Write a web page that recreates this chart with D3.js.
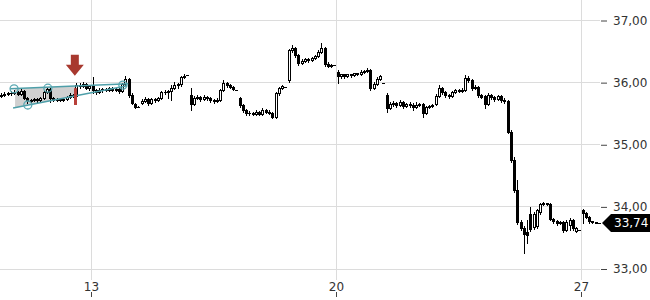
<!DOCTYPE html>
<html>
<head>
<meta charset="utf-8">
<script src="https://cdn.jsdelivr.net/npm/d3@7"></script>
<style>
body { margin: 0; background: #fff; }
svg { display: block; font-family: "DejaVu Sans", sans-serif; }
</style>
</head>
<body>
<script>
// trading sessions (weekends left out), 15 bars per session
var sessionLabels = ["09", "10", "13", "14", "15", "16", "17", "20", "21", "22", "23", "24", "27"];
var tickSessions = [2, 7, 12];
var tickLabels = ["13", "20", "27"];
var priceTicks = [33, 34, 35, 36, 37];
var barsPerSession = 15;
var firstBar = 2;
var lastPrice = 33.74;

var opens = [
  35.78,35.80,35.82,35.83,35.83,35.85,35.82,35.87,35.75,35.70,35.72,35.74,35.72,
  35.75,35.85,35.90,35.75,35.72,35.74,35.72,35.74,35.77,35.80,35.78,35.96,35.95,35.98,35.91,
  35.95,35.88,35.85,35.88,35.90,35.88,35.91,35.88,35.90,35.87,35.98,36.06,35.80,35.66,35.61,
  35.67,35.70,35.74,35.67,35.74,35.72,35.75,35.85,35.85,35.87,35.91,35.96,35.98,36.09,36.12,
  35.80,35.66,35.75,35.77,35.74,35.77,35.75,35.72,35.70,35.72,35.88,35.99,35.96,35.93,35.88,
  35.75,35.64,35.56,35.51,35.51,35.49,35.53,35.49,35.56,35.53,35.51,35.45,35.83,35.91,35.93,
  36.04,36.53,36.56,36.44,36.32,36.35,36.38,36.36,36.40,36.43,36.49,36.56,36.30,36.27,36.28,
  36.17,36.11,36.14,36.11,36.14,36.12,36.15,36.14,36.17,36.19,36.20,35.91,35.98,36.06,35.99,
  35.80,35.59,35.66,35.67,35.64,35.69,35.62,35.66,35.64,35.61,35.64,35.66,35.51,35.61,35.62,
  35.66,35.78,35.91,35.85,35.80,35.78,35.85,35.88,35.87,35.88,36.07,36.04,35.91,35.93,35.80,
  35.78,35.66,35.80,35.77,35.74,35.78,35.72,35.70,35.21,34.75,34.27,33.76,33.66,33.60,33.89,
  33.68,33.69,33.92,34.05,34.06,34.05,33.80,33.77,33.74,33.76,33.63,33.71,33.79,33.61,33.63,
  33.95,33.90,33.84,33.77,33.76,33.74
];
var highs = [
  35.83,35.85,35.85,35.87,35.88,35.87,35.90,35.88,35.77,35.74,35.75,35.75,35.77,
  35.87,35.91,35.91,35.77,35.75,35.75,35.75,35.78,35.83,35.82,35.99,35.99,36.01,35.99,35.96,
  36.09,35.90,35.91,35.91,35.91,35.93,35.93,35.91,35.91,35.99,36.11,36.07,35.83,35.67,35.62,
  35.74,35.77,35.75,35.75,35.75,35.77,35.87,35.88,35.88,35.96,36.01,35.99,36.11,36.14,36.12,
  35.91,35.78,35.80,35.78,35.80,35.78,35.77,35.74,35.75,35.90,36.04,36.01,35.98,35.95,35.88,
  35.77,35.66,35.58,35.54,35.53,35.56,35.54,35.59,35.58,35.56,35.53,35.85,35.93,35.96,35.93,
  36.54,36.61,36.57,36.46,36.38,36.40,36.40,36.41,36.44,36.53,36.64,36.57,36.33,36.30,36.28,
  36.20,36.14,36.14,36.14,36.14,36.15,36.15,36.20,36.20,36.24,36.22,36.01,36.09,36.12,35.99,
  35.83,35.69,35.70,35.69,35.72,35.70,35.67,35.69,35.67,35.69,35.67,35.67,35.62,35.64,35.66,
  35.82,35.96,35.93,35.87,35.82,35.87,35.90,35.90,35.91,36.12,36.11,36.06,35.96,35.95,35.82,
  35.80,35.83,35.82,35.78,35.80,35.80,35.75,35.72,35.24,34.80,34.43,33.79,33.69,33.79,34.00,
  33.92,33.97,34.06,34.08,34.06,34.06,33.82,33.79,33.77,33.77,33.79,33.82,33.80,33.68,33.63,
  33.97,33.92,33.85,33.77,33.76,33.74
];
var lows = [
  35.77,35.78,35.80,35.80,35.82,35.80,35.80,35.74,35.67,35.69,35.70,35.69,35.70,
  35.74,35.83,35.69,35.70,35.70,35.70,35.70,35.72,35.75,35.77,35.77,35.91,35.93,35.90,35.88,
  35.83,35.82,35.83,35.85,35.87,35.87,35.87,35.87,35.83,35.85,35.96,35.77,35.66,35.59,35.61,
  35.66,35.69,35.64,35.66,35.69,35.70,35.74,35.82,35.75,35.72,35.90,35.91,35.95,36.07,36.12,
  35.56,35.64,35.74,35.70,35.72,35.72,35.69,35.67,35.69,35.70,35.87,35.93,35.91,35.88,35.88,
  35.61,35.53,35.48,35.48,35.48,35.48,35.48,35.48,35.51,35.49,35.43,35.43,35.80,35.90,35.93,
  36.01,36.49,36.41,36.28,36.30,36.33,36.33,36.35,36.38,36.41,36.48,36.27,36.25,36.25,36.28,
  35.99,36.07,36.07,36.09,36.09,36.11,36.12,36.12,36.15,36.17,35.88,35.90,35.96,36.04,35.99,
  35.53,35.58,35.62,35.61,35.62,35.59,35.61,35.61,35.56,35.59,35.62,35.45,35.49,35.59,35.61,
  35.64,35.77,35.82,35.77,35.75,35.77,35.83,35.85,35.85,35.87,36.01,35.88,35.90,35.77,35.75,
  35.59,35.64,35.74,35.70,35.72,35.69,35.67,35.19,34.72,34.24,33.72,33.63,33.26,33.42,33.61,
  33.64,33.66,33.89,34.03,34.03,33.79,33.74,33.71,33.72,33.60,33.61,33.63,33.63,33.60,33.63,
  33.74,33.82,33.74,33.74,33.74,33.74
];
var closes = [
  35.80,35.82,35.83,35.83,35.85,35.82,35.87,35.75,35.70,35.72,35.74,35.72,35.75,
  35.85,35.90,35.75,35.72,35.74,35.72,35.74,35.77,35.80,35.78,35.96,35.95,35.98,35.91,35.95,
  35.88,35.85,35.88,35.90,35.88,35.91,35.88,35.90,35.87,35.98,36.06,35.80,35.67,35.61,35.61,
  35.70,35.74,35.67,35.74,35.72,35.75,35.85,35.85,35.87,35.91,35.96,35.98,36.09,36.11,36.12,
  35.66,35.75,35.77,35.74,35.77,35.75,35.72,35.70,35.72,35.88,35.99,35.96,35.93,35.90,35.88,
  35.64,35.56,35.51,35.51,35.49,35.53,35.49,35.56,35.53,35.51,35.45,35.83,35.91,35.95,35.93,
  36.53,36.56,36.44,36.32,36.35,36.38,36.36,36.40,36.43,36.49,36.56,36.30,36.27,36.28,36.28,
  36.11,36.14,36.11,36.14,36.12,36.15,36.14,36.17,36.19,36.20,35.91,35.98,36.06,36.11,35.99,
  35.59,35.66,35.67,35.64,35.69,35.62,35.66,35.64,35.61,35.64,35.66,35.51,35.61,35.62,35.64,
  35.78,35.91,35.85,35.80,35.78,35.85,35.88,35.87,35.88,36.07,36.04,35.91,35.93,35.80,35.77,
  35.66,35.80,35.77,35.74,35.78,35.72,35.70,35.21,34.75,34.27,33.76,33.66,33.56,33.55,33.64,
  33.89,33.95,34.05,34.06,34.05,33.80,33.77,33.74,33.76,33.63,33.76,33.79,33.66,33.66,33.63,
  33.90,33.84,33.77,33.76,33.74,33.74
];

// drawn annotations, in [session, price]
var wedgeUpper = [[0.35, 35.90], [2.76, 35.98]];
var wedgeLower = [[0.41, 35.59], [2.74, 35.95]];
var wedgeFill = [0.45, 1.72];
var wedgeTouches = [[0.43, 35.90], [0.71, 35.64], [1.12, 35.91], [2.65, 35.96]];
var signalBar = [1.67, 35.91, 35.64];
var arrowTip = [1.67, 36.11];

var width = 650, height = 300;

var svg = d3.select("body").append("svg")
  .attr("width", width)
  .attr("height", height);

var x = d3.scaleLinear().domain([0, 12]).range([-7, 581]);
var y = d3.scaleLinear().domain([33, 37]).range([269, 20.5]);

var comma = d3.formatLocale({ decimal: ",", thousands: ".", grouping: [3], currency: ["", "€"] });
var fmt = comma.format(".2f");

// grid
svg.append("g").selectAll("line")
  .data(priceTicks)
  .enter().append("line")
  .attr("x1", 0).attr("x2", 600)
  .attr("y1", function (d) { return Math.floor(y(d)) + 0.5; })
  .attr("y2", function (d) { return Math.floor(y(d)) + 0.5; })
  .attr("stroke", "#dcdcdc");

svg.append("g").selectAll("line")
  .data(tickSessions)
  .enter().append("line")
  .attr("x1", function (d) { return Math.round(x(d)) + 0.5; })
  .attr("x2", function (d) { return Math.round(x(d)) + 0.5; })
  .attr("y1", 0).attr("y2", 280)
  .attr("stroke", "#dcdcdc");

// axes
var yAxis = svg.append("g")
  .attr("transform", "translate(601,0)")
  .call(d3.axisRight(y).tickValues(priceTicks).tickSize(6).tickPadding(6).tickFormat(fmt));
yAxis.select(".domain").remove();
yAxis.selectAll("line").attr("stroke", "#444");
yAxis.selectAll("text").attr("fill", "#333").style("font-size", "12px").style("font-family", "DejaVu Sans");

var xAxis = svg.append("g")
  .attr("transform", "translate(0,292)")
  .call(d3.axisBottom(x).tickValues(tickSessions).tickSize(5)
    .tickFormat(function (d, i) { return tickLabels[i]; }));
xAxis.select(".domain").remove();
xAxis.selectAll("line").attr("stroke", "#444");
xAxis.selectAll("text").attr("y", -5).attr("dy", "0.35em").attr("fill", "#333")
  .style("font-size", "12px").style("font-family", "DejaVu Sans");

// wedge fill
function along(line, t) {
  var a = line[0], b = line[1];
  return a[1] + (b[1] - a[1]) * (t - a[0]) / (b[0] - a[0]);
}
var fillPts = [
  [wedgeFill[0], along(wedgeUpper, wedgeFill[0])],
  [wedgeFill[1], along(wedgeUpper, wedgeFill[1])],
  [wedgeFill[1], along(wedgeLower, wedgeFill[1])],
  [wedgeFill[0], along(wedgeLower, wedgeFill[0])]
];
svg.append("polygon")
  .attr("points", fillPts.map(function (p) { return x(p[0]) + "," + y(p[1]); }).join(" "))
  .attr("fill", "#c8c8c8")
  .attr("opacity", 0.85);

// candles
var candles = closes.map(function (c, i) {
  return { o: opens[i], h: highs[i], l: lows[i], c: c, t: (firstBar + i + 0.5) / barsPerSession };
});

var cg = svg.append("g");
candles.forEach(function (d) {
  var cx = Math.round(x(d.t));
  var top = Math.round(y(Math.max(d.o, d.c)));
  var bot = Math.round(y(Math.min(d.o, d.c)));
  cg.append("line")
    .attr("x1", cx + 0.5).attr("x2", cx + 0.5)
    .attr("y1", Math.round(y(d.h))).attr("y2", Math.round(y(d.l)) + 1)
    .attr("stroke", "#000");
  if (d.c >= d.o && bot - top >= 2) {
    cg.append("rect")
      .attr("x", cx - 0.5).attr("width", 2)
      .attr("y", top + 0.5).attr("height", bot - top)
      .attr("fill", "#fff").attr("stroke", "#000");
  } else {
    cg.append("rect")
      .attr("x", cx - 1).attr("width", 3)
      .attr("y", top).attr("height", Math.max(1, bot - top + 1))
      .attr("fill", "#000");
  }
});

// wedge lines + touch points
[wedgeUpper, wedgeLower].forEach(function (ln) {
  svg.append("line")
    .attr("x1", x(ln[0][0])).attr("y1", y(ln[0][1]))
    .attr("x2", x(ln[1][0])).attr("y2", y(ln[1][1]))
    .attr("stroke", "#4e9fa9").attr("stroke-width", 1.5);
});
svg.append("g").selectAll("circle")
  .data(wedgeTouches)
  .enter().append("circle")
  .attr("cx", function (d) { return x(d[0]); })
  .attr("cy", function (d) { return y(d[1]); })
  .attr("r", 4)
  .attr("fill", "none")
  .attr("stroke", "#5aa8b2")
  .attr("stroke-width", 1.3);

// signal marker and arrow
svg.append("rect")
  .attr("x", Math.round(x(signalBar[0])) - 1).attr("width", 3)
  .attr("y", y(signalBar[1])).attr("height", y(signalBar[2]) - y(signalBar[1]))
  .attr("fill", "#b8403a");

var ax = x(arrowTip[0]), ay = y(arrowTip[1]);
svg.append("path")
  .attr("d", "M" + (ax - 4) + "," + (ay - 21) + "H" + (ax + 4) + "V" + (ay - 11) +
    "H" + (ax + 9) + "L" + ax + "," + ay + "L" + (ax - 9) + "," + (ay - 11) +
    "H" + (ax - 4) + "Z")
  .attr("fill", "#a8392f");

// last price tag
var py = y(lastPrice);
svg.append("path")
  .attr("d", "M602," + py + "L611," + (py - 9) + "H650V" + (py + 9) + "H611Z")
  .attr("fill", "#000");
svg.append("text")
  .attr("x", 614).attr("y", py).attr("dy", "0.36em")
  .attr("fill", "#fff")
  .style("font-size", "12px")
  .text(fmt(lastPrice));
</script>
</body>
</html>
